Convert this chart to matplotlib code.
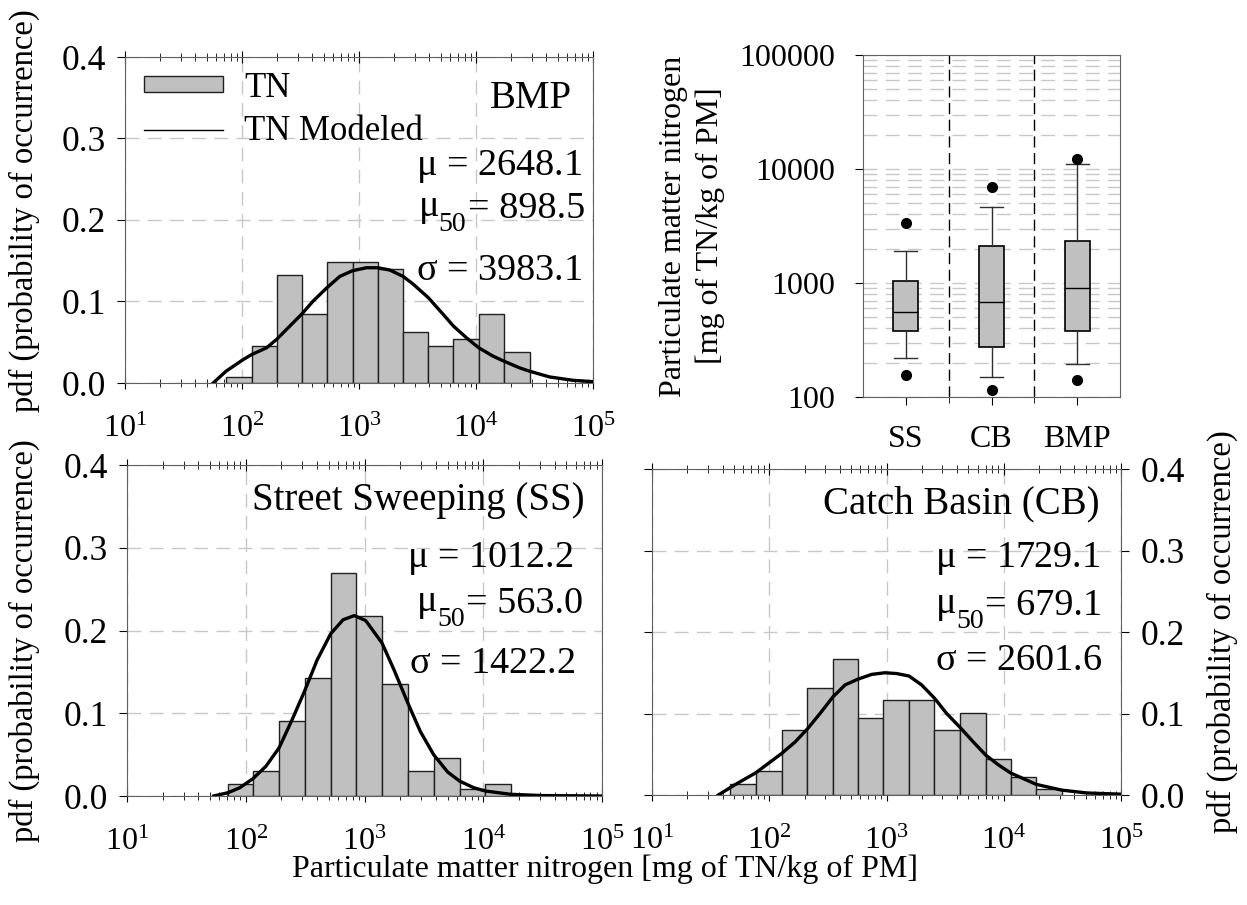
import numpy as np
import matplotlib
matplotlib.use('Agg')
import matplotlib.pyplot as plt
import matplotlib.ticker as mticker
from matplotlib.patches import Patch
from matplotlib.lines import Line2D

plt.rcParams['font.family'] = ['Liberation Serif', 'DejaVu Serif']
plt.rcParams['mathtext.fontset'] = 'custom'
plt.rcParams['mathtext.rm'] = 'Liberation Serif'
plt.rcParams['mathtext.it'] = 'Liberation Serif'
plt.rcParams['mathtext.bf'] = 'Liberation Serif'

# ---- histogram data (bin edges as log10 of mg TN / kg PM) ----
bmp_edges = [1.863, 2.082, 2.295, 2.509, 2.728, 2.945, 3.161, 3.377, 3.591, 3.807, 4.024, 4.240, 4.459]
bmp_pdf = [0.007, 0.046, 0.132, 0.085, 0.148, 0.148, 0.140, 0.062, 0.046, 0.054, 0.085, 0.038]

ss_edges = [1.851, 2.061, 2.280, 2.496, 2.715, 2.931, 3.147, 3.366, 3.582, 3.801, 4.018, 4.234]
ss_pdf = [0.015, 0.030, 0.091, 0.143, 0.270, 0.218, 0.135, 0.030, 0.046, 0.008, 0.015]

cb_edges = [1.665, 1.887, 2.106, 2.325, 2.541, 2.754, 2.973, 3.192, 3.408, 3.627, 3.846, 4.059, 4.278, 4.494]
cb_pdf = [0.014, 0.029, 0.080, 0.131, 0.167, 0.094, 0.116, 0.116, 0.080, 0.101, 0.044, 0.022, 0.007]

# ---- modeled curves (log10 x, pdf) ----
bmp_fit_x = [1.754, 1.863, 2.011, 2.082, 2.210, 2.295, 2.409, 2.509, 2.609, 2.728, 2.836, 2.945,
             3.064, 3.161, 3.263, 3.377, 3.463, 3.591, 3.719, 3.807, 3.918, 4.024, 4.146, 4.240,
             4.374, 4.459, 4.630, 4.829, 5.0]
bmp_fit_y = [0.0, 0.0144, 0.0288, 0.0349, 0.0432, 0.0534, 0.0699, 0.0843, 0.1007, 0.1172, 0.1308,
             0.1378, 0.1414, 0.1414, 0.1386, 0.1308, 0.1213, 0.1049, 0.0843, 0.0699, 0.0555, 0.0432,
             0.0329, 0.0267, 0.0185, 0.0144, 0.0074, 0.0033, 0.0016]

ss_fit_x = [1.730, 1.851, 1.950, 2.061, 2.170, 2.280, 2.390, 2.496, 2.600, 2.715, 2.820, 2.914,
            3.010, 3.147, 3.250, 3.366, 3.470, 3.582, 3.700, 3.801, 3.920, 4.018, 4.234, 4.500, 5.0]
ss_fit_y = [0.0, 0.004, 0.010, 0.021, 0.036, 0.058, 0.092, 0.127, 0.164, 0.196, 0.213, 0.218,
            0.212, 0.185, 0.152, 0.112, 0.078, 0.050, 0.029, 0.018, 0.010, 0.006, 0.002, 0.0005, 0.0]

cb_fit_x = [1.566, 1.700, 1.887, 2.106, 2.220, 2.325, 2.433, 2.541, 2.646, 2.754, 2.874, 2.987,
            3.087, 3.192, 3.300, 3.408, 3.513, 3.627, 3.741, 3.846, 3.954, 4.059, 4.278, 4.494,
            4.707, 5.0]
cb_fit_y = [0.0, 0.0120, 0.0274, 0.051, 0.065, 0.081, 0.100, 0.120, 0.135, 0.142, 0.148, 0.150,
            0.149, 0.146, 0.135, 0.119, 0.100, 0.083, 0.065, 0.049, 0.037, 0.027, 0.013, 0.006,
            0.0025, 0.001]

# ---- summary statistics ----
bmp_stats = ['2648.1', '898.5', '3983.1']
ss_stats = ['1012.2', '563.0', '1422.2']
cb_stats = ['1729.1', '679.1', '2601.6']

# ---- box plot values ----
box_labels = ['SS', 'CB', 'BMP']
box_whislo = [218, 150, 194]
box_q1 = [377, 273, 379]
box_med = [557, 681, 912]
box_q3 = [1050, 2128, 2355]
box_whishi = [1897, 4645, 10960]
box_flier_lo = [155, 115, 140]
box_flier_hi = [3360, 6918, 12300]

W, H = 1247, 905
fig = plt.figure(figsize=(W / 100, H / 100), dpi=100)

def px_axes(x0, y0, x1, y1):
    return fig.add_axes([x0 / W, 1 - y1 / H, (x1 - x0) / W, (y1 - y0) / H])

ax1 = px_axes(125, 57, 593, 383)
axb = px_axes(863, 55, 1120, 397)
ax3 = px_axes(127, 465, 602, 796)
ax4 = px_axes(652, 469, 1121, 795)

BAR = '#c0c0c0'
GRID = dict(color='#c8c8c8', linestyle=(0, (10, 6)), linewidth=1.0)
SPINE = '#606060'
TICK_FS = 23
YTICK_FS = 25.5
LAB_FS = 23
PDF_FS = 23.5
STAT_FS = 27.5


def hist_panel(ax, edges, pdf, fx, fy, title, stats, tpos, sx, sy):
    e = 10 ** np.array(edges)
    ax.bar(e[:-1], pdf, width=e[1:] - e[:-1], align='edge', color=BAR,
           edgecolor='#202020', linewidth=1.0, zorder=2)
    ax.plot(10 ** np.array(fx), fy, color='black', linewidth=2.4, zorder=3)
    ax.set_xscale('log')
    ax.set_xlim(10, 1e5)
    ax.set_ylim(0, 0.4)
    ax.set_yticks([0.0, 0.1, 0.2, 0.3, 0.4])
    ax.yaxis.set_major_formatter(mticker.FormatStrFormatter('%.1f'))
    ax.xaxis.set_major_locator(mticker.LogLocator(base=10, numticks=10))
    ax.xaxis.set_minor_locator(mticker.LogLocator(base=10, subs=np.arange(2, 10), numticks=20))
    ax.xaxis.set_minor_formatter(mticker.NullFormatter())
    ax.grid(which='major', **GRID)
    ax.set_axisbelow(True)
    ax.tick_params(axis='x', which='both', direction='inout', top=True, labelsize=TICK_FS, pad=19)
    ax.tick_params(axis='x', which='major', length=8)
    ax.tick_params(axis='x', which='minor', length=6)
    ax.tick_params(axis='y', direction='out', length=6, labelsize=YTICK_FS, pad=8)
    for s in ax.spines.values():
        s.set_color(SPINE)
    ax.text(tpos[0], tpos[1], title, transform=ax.transAxes, ha='right',
            va='baseline', fontsize=28)
    # mean and std
    ax.text(sx[0], sy[0], r'$\mu$ = ' + stats[0], transform=ax.transAxes, ha='right',
            va='baseline', fontsize=STAT_FS)
    ax.text(sx[2], sy[2], r'$\sigma$ = ' + stats[2], transform=ax.transAxes, ha='right',
            va='baseline', fontsize=STAT_FS)
    # median, built from pieces so the subscript is larger and lower
    t_eq = ax.text(sx[1], sy[1], '= ' + stats[1], transform=ax.transAxes, ha='right',
                   va='baseline', fontsize=STAT_FS)
    t_sub = ax.annotate('50', xy=(0, 0), xycoords=t_eq, xytext=(-1, -8),
                        textcoords='offset points', ha='right', va='bottom', fontsize=20)
    ax.annotate(r'$\mu$', xy=(0, 0), xycoords=(t_sub, t_eq), xytext=(0, 0),
                textcoords='offset points', ha='right', va='bottom', fontsize=STAT_FS)


hist_panel(ax1, bmp_edges, bmp_pdf, bmp_fit_x, bmp_fit_y, 'BMP', bmp_stats,
           (0.955, 0.843), (0.976, 0.983, 0.976), (0.638, 0.506, 0.316))
hist_panel(ax3, ss_edges, ss_pdf, ss_fit_x, ss_fit_y, 'Street Sweeping (SS)', ss_stats,
           (0.964, 0.864), (0.939, 0.960, 0.943), (0.692, 0.553, 0.372))
hist_panel(ax4, cb_edges, cb_pdf, cb_fit_x, cb_fit_y, 'Catch Basin (CB)', cb_stats,
           (0.955, 0.865), (0.955, 0.960, 0.960), (0.699, 0.552, 0.383))

ax1.set_ylabel('pdf (probability of occurrence)', fontsize=PDF_FS)
ax1.yaxis.set_label_coords(-0.182, 0.53)
ax3.set_ylabel('pdf (probability of occurrence)', fontsize=PDF_FS)
ax3.yaxis.set_label_coords(-0.183, 0.47)
ax4.yaxis.set_label_position('right')
ax4.yaxis.tick_right()
ax4.tick_params(axis='y', left=True, right=True, labelleft=False, labelright=True)
ax4.set_ylabel('pdf (probability of occurrence)', fontsize=PDF_FS, labelpad=16)

handles = [Patch(facecolor=BAR, edgecolor='#202020', linewidth=1.0),
           Line2D([0], [0], color='black', linewidth=1.0)]
ax1.legend(handles, ['TN', 'TN Modeled'], loc='upper left', bbox_to_anchor=(0.01, 0.998),
           frameon=False, fontsize=25, handlelength=2.3, handleheight=0.35,
           handletextpad=0.6, labelspacing=0.3, borderpad=0.2, borderaxespad=0.2)

fig.text(605 / W, 1 - 869 / H, 'Particulate matter nitrogen [mg of TN/kg of PM]',
         ha='center', va='center', fontsize=LAB_FS)

# ---- box plot panel ----
stats = []
for i, lab in enumerate(box_labels):
    stats.append(dict(label=lab, med=box_med[i], q1=box_q1[i], q3=box_q3[i],
                      whislo=box_whislo[i], whishi=box_whishi[i],
                      fliers=[box_flier_lo[i], box_flier_hi[i]]))
axb.bxp(stats, positions=[1, 2, 3], widths=0.29, capwidths=0.27, patch_artist=True,
        boxprops=dict(facecolor=BAR, edgecolor='black', linewidth=1.2),
        medianprops=dict(color='black', linewidth=1.0),
        whiskerprops=dict(color='#303030', linewidth=1.0),
        capprops=dict(color='#303030', linewidth=1.0),
        flierprops=dict(marker='o', markerfacecolor='black', markeredgecolor='black',
                        markersize=7))
axb.set_yscale('log')
axb.set_ylim(100, 100000)
axb.set_xlim(0.5, 3.5)
for xd in (1.5, 2.5):
    axb.axvline(xd, color='black', linestyle=(0, (8, 4)), linewidth=1.0, zorder=1)
axb.yaxis.set_major_locator(mticker.FixedLocator([100, 1000, 10000, 100000]))
axb.yaxis.set_major_formatter(mticker.FuncFormatter(lambda v, p: f'{v:.0f}'))
axb.yaxis.set_minor_locator(mticker.LogLocator(base=10, subs=np.arange(2, 10), numticks=20))
axb.yaxis.set_minor_formatter(mticker.NullFormatter())
axb.grid(which='both', axis='y', **GRID)
axb.set_axisbelow(True)
axb.set_xticks([1, 2, 3])
axb.set_xticklabels(box_labels)
axb.set_xticks([1.5, 2.5], minor=True)
axb.tick_params(axis='x', which='major', direction='out', length=6, labelsize=TICK_FS, pad=14)
axb.tick_params(axis='x', which='minor', direction='inout', length=8)
axb.tick_params(axis='y', which='major', direction='out', length=6, labelsize=TICK_FS, pad=14)
axb.tick_params(axis='y', which='minor', length=0)
for s in axb.spines.values():
    s.set_color(SPINE)
axb.set_ylabel('Particulate matter nitrogen\n[mg of TN/kg of PM]', fontsize=LAB_FS,
               labelpad=10, linespacing=1.35)

fig.savefig('out.png', dpi=100)
